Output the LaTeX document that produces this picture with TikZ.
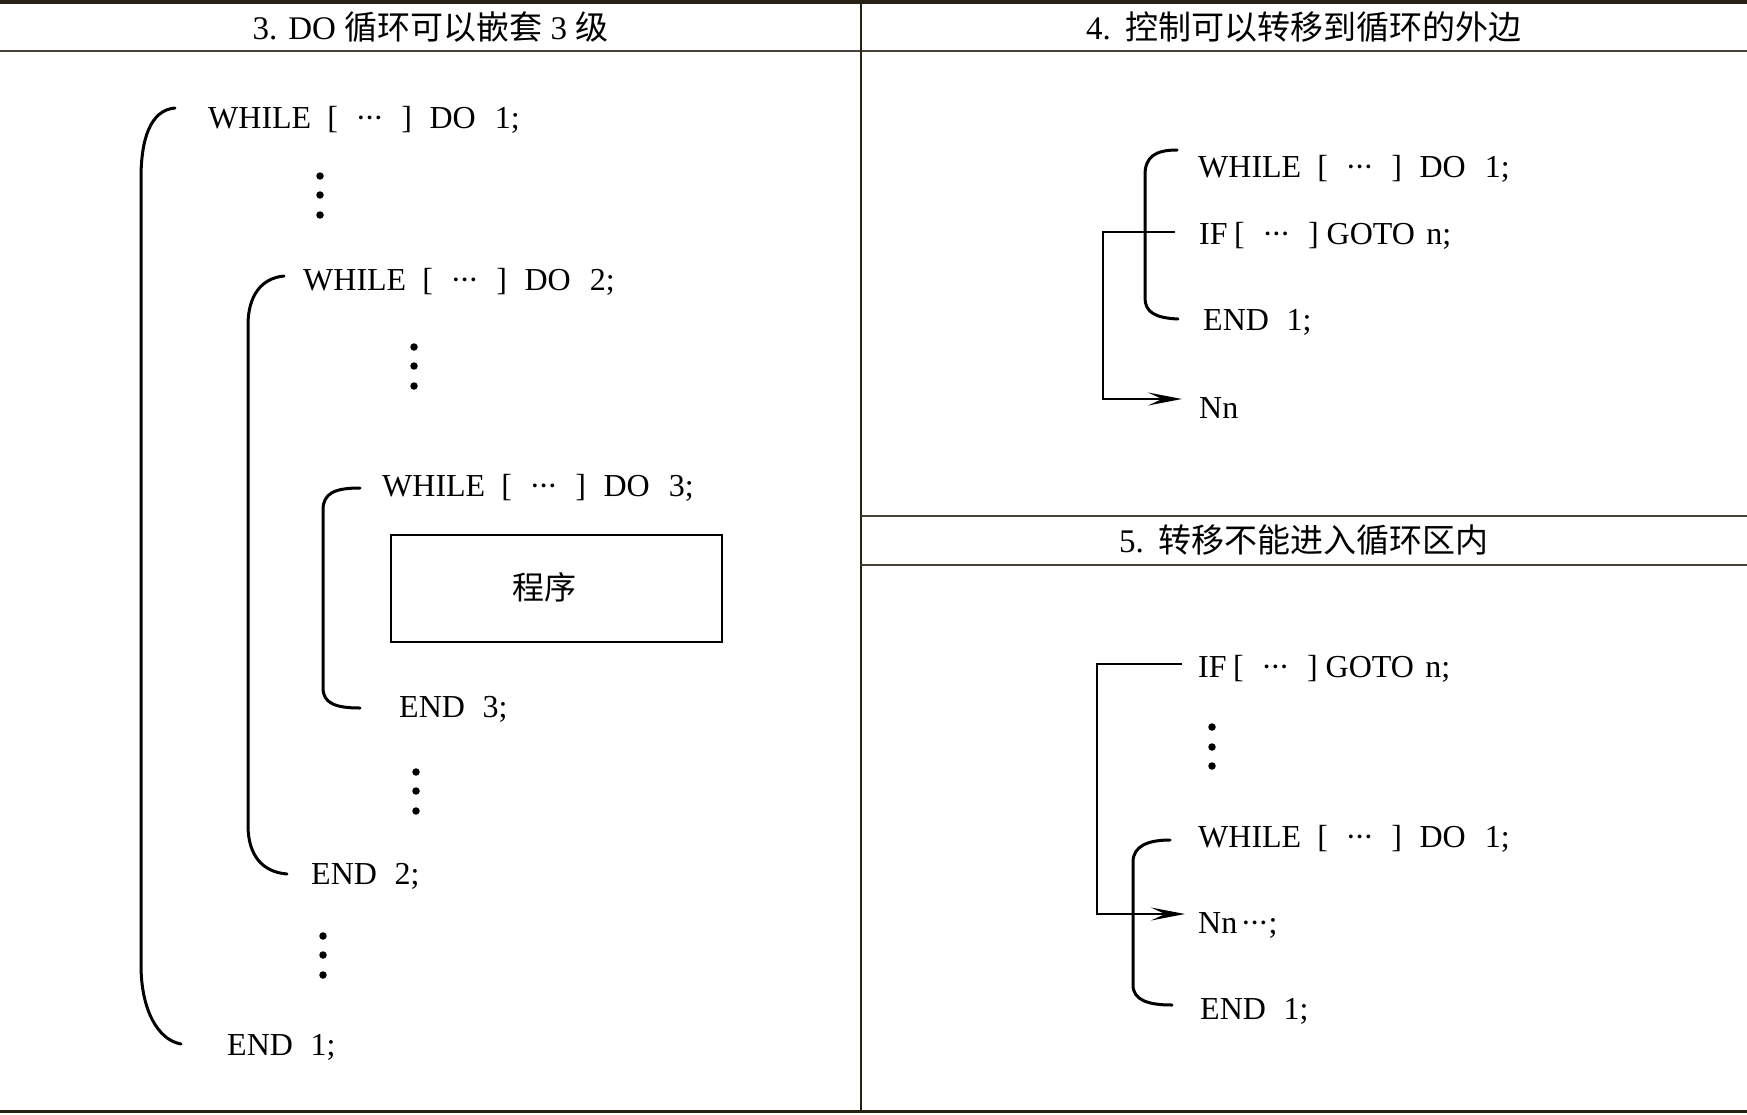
\documentclass[tikz,border=0pt]{standalone}
\usepackage{fontspec}
\setmainfont{Liberation Serif}
\newfontfamily\cjk{Noto Sans CJK SC}
\usetikzlibrary{arrows.meta}
\definecolor{rulec}{RGB}{38,34,22}
\newcommand{\mdots}{·\kern-0.06em·\kern-0.06em·}
\newcommand{\whl}[1]{WHILE\hspace{0.5em}[\hspace{0.55em}\mdots\hspace{0.55em}]\hspace{0.55em}DO\hspace{0.6em}#1;}
\newcommand{\gotol}{IF\hspace{0.2em}[\hspace{0.55em}\mdots\hspace{0.55em}]\hspace{0.25em}GOTO\hspace{0.36em}n;}
\newcommand{\myend}[1]{END\hspace{0.55em}#1;}
\begin{document}
\begin{tikzpicture}[x=1pt,y=-1pt,
  txt/.style={anchor=base west, inner sep=0pt, font=\fontsize{32}{38}\selectfont},
  ttl/.style={inner sep=0pt, font=\fontsize{33}{40}\selectfont},
  brk/.style={line width=3pt, line cap=round},
  conn/.style={line width=2.6pt},
  arr/.style={conn, -{Stealth[length=34pt, width=13pt, inset=14pt]}},
  dotm/.style={circle, fill=black, inner sep=0pt, minimum size=7.5pt},
  rulethick/.style={line width=3.5pt, draw=rulec},
  rulethin/.style={line width=2pt, draw=rulec!85},
  boxst/.style={draw, line width=2.5pt, minimum width=331pt, minimum height=107pt, inner sep=0pt},
  cjktxt/.style={inner sep=0pt, font=\fontsize{32}{38}\selectfont\cjk}
]
\useasboundingbox (0,0) rectangle (1747,1114);

% table rules
\draw[rulethick] (0,1.75) -- (1747,1.75);
\draw[rulethin] (0,51) -- (1747,51);
\draw[line width=1.5pt, draw=rulec] (861,0) -- (861,1111);
\draw[rulethin] (861,516) -- (1747,516);
\draw[rulethin] (861,565) -- (1747,565);
\draw[rulethick] (0,1111.5) -- (1747,1111.5);

% titles
\node[ttl] (t3) at (430.5,27) {3. DO {\cjk 循环可以嵌套} 3 {\cjk 级}};
\node[ttl] (t4) at (1304,27) {4.\hspace{0.45em}{\cjk 控制可以转移到循环的外边}};
\node[ttl] (t5) at (1304,540) {5.\hspace{0.45em}{\cjk 转移不能进入循环区内}};

% ---- left panel
\node[txt] (w1) at (208,128.5) {\whl{1}};
\node[dotm] (d1a) at (320,176) {};
\node[dotm] (d1b) at (320,195) {};
\node[dotm] (d1c) at (320,215) {};
\node[txt] (w2) at (303,290.5) {\whl{2}};
\node[dotm] (d2a) at (414,347) {};
\node[dotm] (d2b) at (414,366) {};
\node[dotm] (d2c) at (414,386) {};
\node[txt] (w3) at (382,496.5) {\whl{3}};
\node[boxst] (prog) at (556.5,588.5) {};
\node[cjktxt] (progt) at (544,587) {程序};
\node[txt] (e3) at (399,717.5) {\myend{3}};
\node[dotm] (d3a) at (416,772) {};
\node[dotm] (d3b) at (416,791) {};
\node[dotm] (d3c) at (416,811) {};
\node[txt] (e2) at (311,884.5) {\myend{2}};
\node[dotm] (d4a) at (323,936) {};
\node[dotm] (d4b) at (323,955) {};
\node[dotm] (d4c) at (323,975) {};
\node[txt] (e1) at (227,1055.5) {\myend{1}};

\draw[brk] (175,108) .. controls (150,110) and (141,140) .. (141,178) -- (141,965) .. controls (141,1010) and (158,1040) .. (181,1044);
\draw[brk] (284,276) .. controls (262,278) and (248,295) .. (248,325) -- (248,825) .. controls (248,855) and (262,872) .. (287,874);
\draw[brk] (360,488) .. controls (335,488) and (323,493) .. (323,510) -- (323,688) .. controls (323,703) and (335,708) .. (360,708);

% ---- right top panel
\node[txt] (w4) at (1198,177.5) {\whl{1}};
\node[txt] (g4) at (1199,244.5) {\gotol};
\node[txt] (e4) at (1203,330.5) {\myend{1}};
\node[txt] (n4) at (1199,418.5) {Nn};
\coordinate (s4) at (1175,232);
\coordinate (k4) at (1103,232);
\coordinate (a4) at (1182,399);
\draw[arr] (s4) -- (k4) |- (a4);
\draw[brk] (1177,150) .. controls (1155,150) and (1145,157) .. (1145,175) -- (1145,298) .. controls (1145,312) and (1155,318) .. (1178,319);

% ---- right bottom panel
\node[txt] (g5) at (1198,677.5) {\gotol};
\node[dotm] (d5a) at (1212,727) {};
\node[dotm] (d5b) at (1212,747) {};
\node[dotm] (d5c) at (1212,766) {};
\node[txt] (w5) at (1198,847.5) {\whl{1}};
\node[txt] (n5) at (1198,933.5) {Nn\hspace{0.1em}\mdots;};
\node[txt] (e5) at (1200,1019.5) {\myend{1}};
\coordinate (s5) at (1182,664);
\coordinate (k5) at (1097,664);
\coordinate (a5) at (1185,914);
\draw[arr] (s5) -- (k5) |- (a5);
\draw[brk] (1170,840) .. controls (1148,840) and (1133,846) .. (1133,862) -- (1133,985) .. controls (1133,1000) and (1148,1005) .. (1172,1005);
\end{tikzpicture}
\end{document}
